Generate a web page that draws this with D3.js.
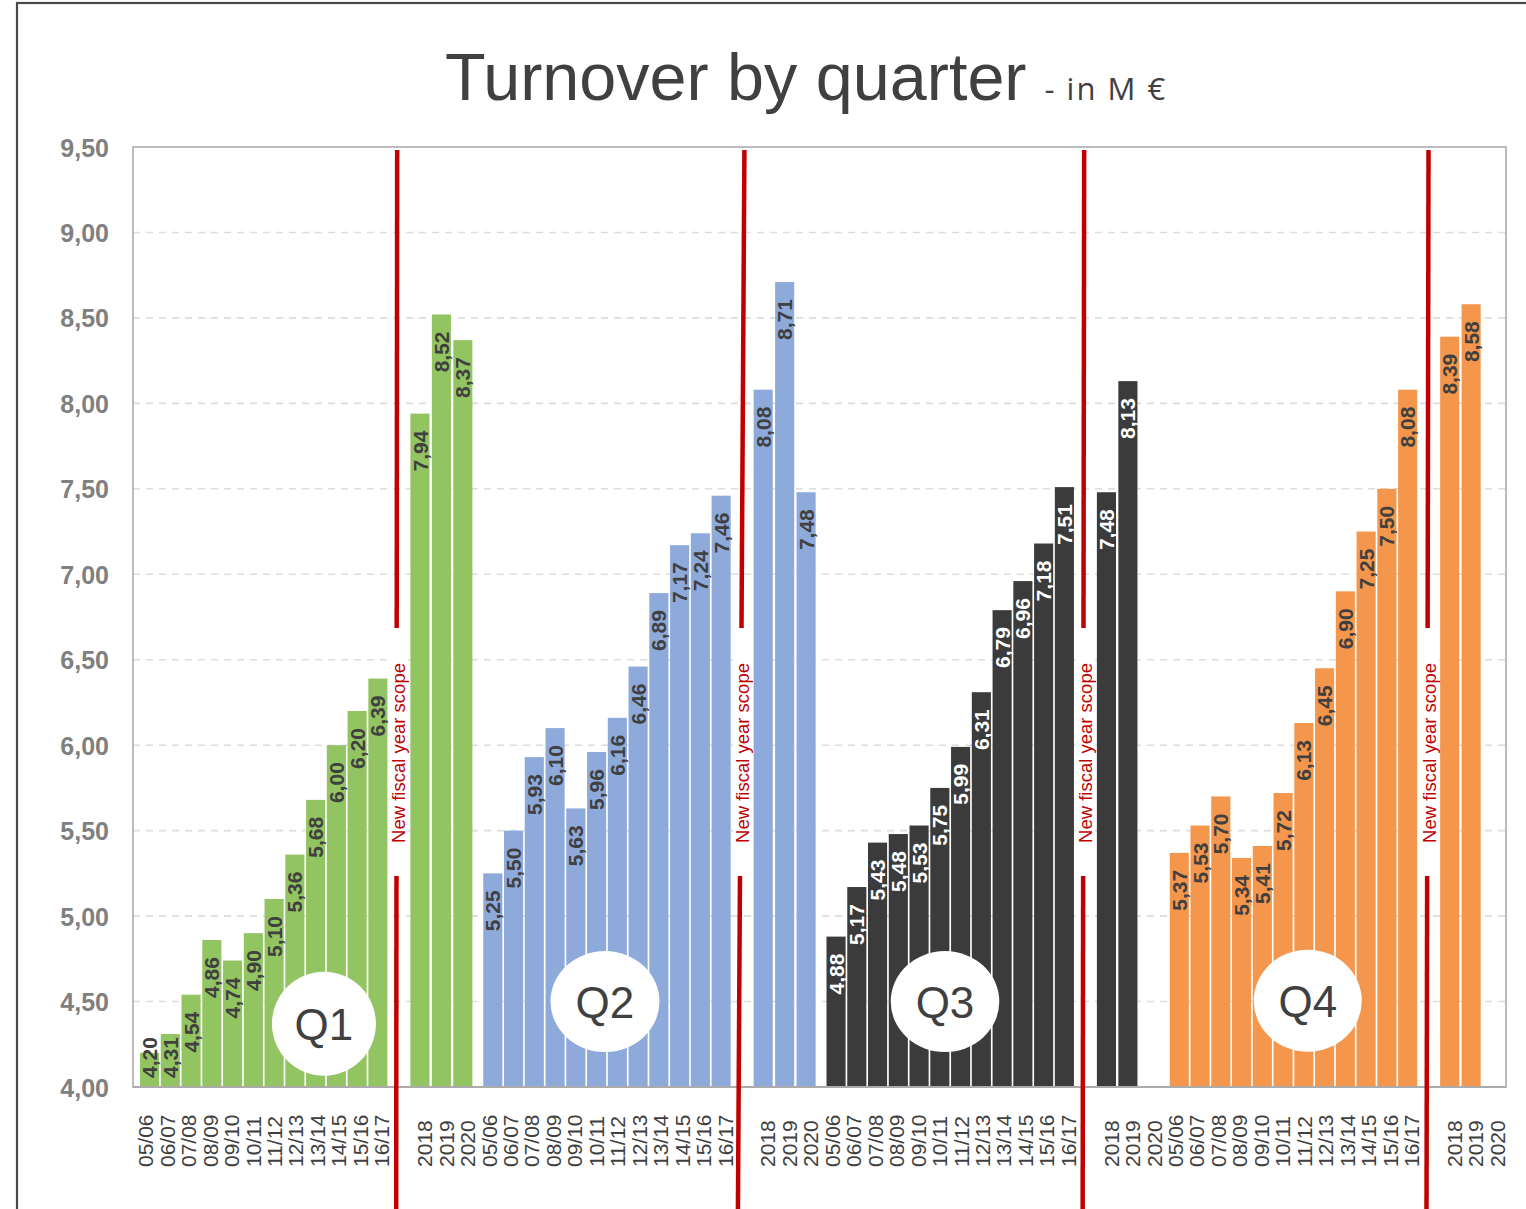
<!DOCTYPE html>
<html>
<head>
<meta charset="utf-8">
<script src="https://cdn.jsdelivr.net/npm/d3@7/dist/d3.min.js"></script>
<style>
  html, body { margin: 0; padding: 0; background: #ffffff; }
  svg { display: block; font-family: "Liberation Sans", Arial, sans-serif; }
</style>
</head>
<body>
<svg id="chart" width="1526" height="1209"></svg>
<script>
// ---------------- DATA ----------------
const quarters = ["Q1", "Q2", "Q3", "Q4"];
const fiscalYears = ["05/06","06/07","07/08","08/09","09/10","10/11","11/12","12/13","13/14","14/15","15/16","16/17"];
const calendarYears = ["2018", "2019", "2020"];

const q1Historic = [4.20, 4.31, 4.54, 4.86, 4.74, 4.90, 5.10, 5.36, 5.68, 6.00, 6.20, 6.39];
const q1New      = [7.94, 8.52, 8.37];
const q2Historic = [5.25, 5.50, 5.93, 6.10, 5.63, 5.96, 6.16, 6.46, 6.89, 7.17, 7.24, 7.46];
const q2New      = [8.08, 8.71, 7.48];
const q3Historic = [4.88, 5.17, 5.43, 5.48, 5.53, 5.75, 5.99, 6.31, 6.79, 6.96, 7.18, 7.51];
const q3New      = [7.48, 8.13, null];
const q4Historic = [5.37, 5.53, 5.70, 5.34, 5.41, 5.72, 6.13, 6.45, 6.90, 7.25, 7.50, 8.08];
const q4New      = [8.39, 8.58, null];

const yTicks = [4.00, 4.50, 5.00, 5.50, 6.00, 6.50, 7.00, 7.50, 8.00, 8.50, 9.00, 9.50];

const titleText = "Turnover by quarter";
const subtitleText = "- in M €";
const scopeText = "New fiscal year scope";

// ---------------- STYLE ----------------
const quarterColors = ["#93C462", "#8EAADB", "#3B3B3B", "#F4964C"];
const valueLabelColors = ["#404040", "#404040", "#ffffff", "#404040"];
const redColor = "#C00000";
const textDark = "#404040";

const historicByQuarter = [q1Historic, q2Historic, q3Historic, q4Historic];
const newByQuarter = [q1New, q2New, q3New, q4New];

// ---------------- LAYOUT ----------------
const W = 1526, H = 1209;
const plot = { left: 133, right: 1506, top: 147, bottom: 1087 };

const svg = d3.select("#chart");

// outer frame
svg.append("rect")
  .attr("x", 17).attr("y", 3)
  .attr("width", 1600).attr("height", 1400)
  .attr("fill", "#ffffff")
  .attr("stroke", "#4a4a4a").attr("stroke-width", 2.2);

// category keys
const catKeys = [];
quarters.forEach(q => {
  fiscalYears.forEach(f => catKeys.push(q + "|" + f));
  catKeys.push(q + "|sep");
  calendarYears.forEach(c => catKeys.push(q + "|" + c));
});

const x = d3.scaleBand().domain(catKeys).range([plot.left, plot.right]).padding(0);
const y = d3.scaleLinear().domain([4, 9.5]).range([plot.bottom, plot.top]);

const locale = d3.formatLocale({ decimal: ",", thousands: ".", grouping: [3], currency: ["", " €"] });
const fmt = locale.format(".2f");

// gridlines
svg.append("g").selectAll("line")
  .data(yTicks.filter(t => t > 4 && t < 9.5))
  .join("line")
  .attr("x1", plot.left).attr("x2", plot.right)
  .attr("y1", d => y(d)).attr("y2", d => y(d))
  .attr("stroke", "#dddddd").attr("stroke-width", 1.6)
  .attr("stroke-dasharray", "7,6");

// bars
const barsG = svg.append("g");
const labelsG = svg.append("g");
const barData = [];

quarters.forEach((q, qi) => {
  const first = x(q + "|" + fiscalYears[0]);
  const last = x(q + "|" + fiscalYears[fiscalYears.length - 1]) + x.bandwidth();
  const inner = d3.scaleBand().domain(fiscalYears)
    .range([first + 7, last - 3]).paddingInner(0.08).paddingOuter(0);
  historicByQuarter[qi].forEach((v, i) => {
    barData.push({ q: qi, v: v, x0: inner(fiscalYears[i]), w: inner.bandwidth() });
  });
  newByQuarter[qi].forEach((v, i) => {
    if (v == null) return;
    barData.push({ q: qi, v: v, x0: x(q + "|" + calendarYears[i]) - 1.5, w: inner.bandwidth() });
  });
});

barsG.selectAll("rect").data(barData).join("rect")
  .attr("x", d => d.x0)
  .attr("y", d => y(d.v))
  .attr("width", d => d.w)
  .attr("height", d => y(4) - y(d.v))
  .attr("fill", d => quarterColors[d.q]);

// value labels
const vl = labelsG.selectAll("text").data(barData).join("text")
  .text(d => fmt(d.v))
  .attr("font-size", 21)
  .attr("font-weight", "bold")
  .attr("fill", d => valueLabelColors[d.q])
  .attr("text-anchor", "end")
  .attr("dy", "0.36em");
vl.each(function(d) {
  const len = this.getComputedTextLength();
  let top = y(d.v) + 17;
  if (top + len > plot.bottom - 9) top = plot.bottom - 9 - len;
  d3.select(this).attr("transform", `translate(${d.x0 + d.w / 2},${top}) rotate(-90)`);
});

// plot border
svg.append("rect")
  .attr("x", plot.left).attr("y", plot.top)
  .attr("width", plot.right - plot.left).attr("height", plot.bottom - plot.top)
  .attr("fill", "none").attr("stroke", "#ababab").attr("stroke-width", 1.6);
svg.append("line")
  .attr("x1", plot.left).attr("x2", plot.right)
  .attr("y1", plot.bottom).attr("y2", plot.bottom)
  .attr("stroke", "#ababab").attr("stroke-width", 2.2);

// y axis
const yAxis = svg.append("g")
  .attr("transform", `translate(${plot.left},0)`)
  .call(d3.axisLeft(y).tickValues(yTicks).tickSize(0).tickPadding(24).tickFormat(fmt));
yAxis.select(".domain").remove();
yAxis.selectAll("text")
  .attr("font-family", "'Liberation Sans', Arial, sans-serif")
  .attr("font-size", 25).attr("font-weight", "bold").attr("fill", "#808080")
  .attr("dy", "0.36em");

// x axis labels
const xAxis = svg.append("g")
  .attr("transform", `translate(0,${plot.bottom})`)
  .call(d3.axisBottom(x).tickSize(0).tickFormat(d => { const p = d.split("|")[1]; return p === "sep" ? "" : p; }));
xAxis.select(".domain").remove();
xAxis.selectAll("text")
  .attr("font-family", "'Liberation Sans', Arial, sans-serif")
  .attr("font-size", 21).attr("fill", textDark)
  .attr("text-anchor", "start")
  .attr("x", 0).attr("y", 0)
  .attr("dy", "0.36em")
  .attr("transform", "translate(2,80) rotate(-90)");

// separators: red lines with "New fiscal year scope" (slightly tilted, as drawn by hand)
const sepTopOffset = [-4, 0, -3.5, -2.4];
const sepBottomOffset = [-5, -6.5, -5, -4.4];
const sepG = svg.append("g");
quarters.forEach((q, qi) => {
  const cx = x(q + "|sep") + x.bandwidth() / 2;
  const xTop = cx + sepTopOffset[qi], xBot = cx + sepBottomOffset[qi];
  const yTop = 150, yBot = 1212;
  const gapTop = 628, gapBot = 876;
  const xAt = yy => xTop + (xBot - xTop) * (yy - yTop) / (yBot - yTop);
  const tx = xAt(753) + 2;
  sepG.append("rect")
    .attr("x", tx - 9.5).attr("y", 632)
    .attr("width", 19).attr("height", 240)
    .attr("fill", "#ffffff");
  sepG.append("line")
    .attr("x1", xTop).attr("y1", yTop).attr("x2", xAt(gapTop)).attr("y2", gapTop)
    .attr("stroke", redColor).attr("stroke-width", 4.5);
  sepG.append("line")
    .attr("x1", xAt(gapBot)).attr("y1", gapBot).attr("x2", xBot).attr("y2", yBot)
    .attr("stroke", redColor).attr("stroke-width", 4.5);
  sepG.append("text")
    .attr("transform", `translate(${tx},753) rotate(-90)`)
    .attr("text-anchor", "middle").attr("dy", "0.36em")
    .attr("font-size", 18.5).attr("fill", redColor)
    .text(scopeText);
});

// quarter badges (positioned in category units within each quarter, and in value units)
const badgeSpecs = [
  { q: 0, at: 8.9, v: 4.37, rx: 52, ry: 52 },
  { q: 1, at: 6.0, v: 4.50, rx: 54.5, ry: 50.5 },
  { q: 2, at: 5.85, v: 4.50, rx: 54.3, ry: 50.5 },
  { q: 3, at: 6.76, v: 4.505, rx: 54, ry: 51 }
];
const badgeG = svg.append("g");
badgeSpecs.forEach(b => {
  const base = x(quarters[b.q] + "|" + fiscalYears[0]);
  const cx = base + b.at * x.bandwidth();
  const cy = y(b.v);
  badgeG.append("ellipse").attr("cx", cx).attr("cy", cy).attr("rx", b.rx).attr("ry", b.ry).attr("fill", "#ffffff");
  badgeG.append("text").attr("x", cx).attr("y", cy + 16)
    .attr("text-anchor", "middle").attr("font-size", 44).attr("fill", textDark)
    .text(quarters[b.q]);
});

// title
const title = svg.append("text").attr("x", 445).attr("y", 100).attr("fill", textDark);
title.append("tspan").attr("font-size", 66.5).attr("font-family", "'Liberation Sans', Arial, sans-serif").text(titleText);
title.append("tspan").attr("dx", 18).attr("font-size", 31).attr("letter-spacing", 2)
  .attr("font-family", "'Open Sans', 'Noto Sans', sans-serif").text(subtitleText);
</script>
</body>
</html>
